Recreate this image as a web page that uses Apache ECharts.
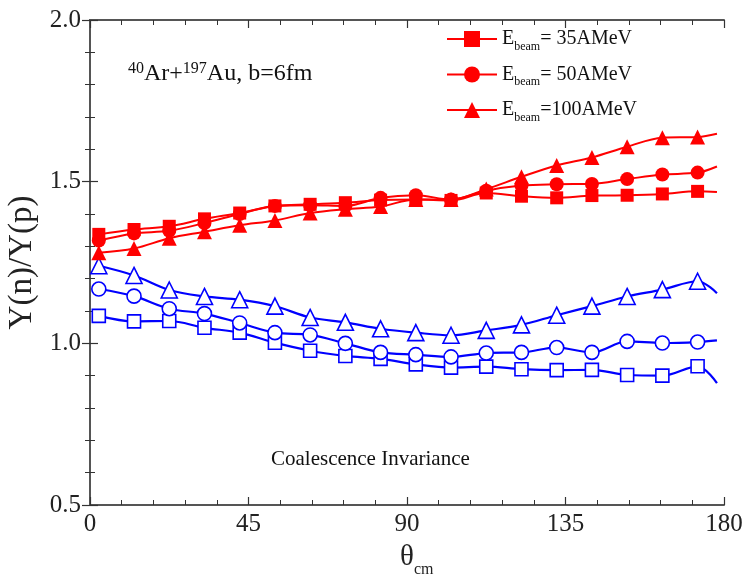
<!DOCTYPE html>
<html>
<head>
<meta charset="utf-8">
<script src="https://cdn.jsdelivr.net/npm/echarts@6/dist/echarts.min.js"></script>
<style>html,body{margin:0;padding:0;background:#fff;}#c{width:746px;height:586px;}</style>
</head>
<body>
<div id="c"></div>
<script>
// angles (deg); last point is the curve end without marker
var theta = [2.5,12.5,22.5,32.5,42.5,52.5,62.5,72.5,82.5,92.5,102.5,112.5,122.5,132.5,142.5,152.5,162.5,172.5,178];
// red (filled) series
var red35  = [1.337,1.352,1.362,1.385,1.403,1.425,1.430,1.435,1.443,1.445,1.442,1.465,1.455,1.450,1.457,1.458,1.462,1.470,1.468];
var red50  = [1.318,1.340,1.348,1.372,1.400,1.425,1.427,1.425,1.450,1.458,1.445,1.472,1.488,1.492,1.493,1.508,1.522,1.528,1.547];
var red100 = [1.280,1.293,1.325,1.345,1.365,1.380,1.403,1.415,1.423,1.445,1.445,1.477,1.515,1.550,1.575,1.608,1.636,1.638,1.648];
// blue (open) series
var blue35  = [1.085,1.068,1.069,1.048,1.033,1.002,0.977,0.961,0.952,0.935,0.925,0.928,0.920,0.917,0.918,0.902,0.900,0.929,0.877];
var blue50  = [1.168,1.146,1.107,1.092,1.063,1.033,1.026,1.000,0.972,0.965,0.958,0.970,0.972,0.987,0.972,1.006,1.001,1.004,1.009];
var blue100 = [1.240,1.210,1.165,1.145,1.135,1.115,1.080,1.065,1.045,1.033,1.025,1.040,1.057,1.087,1.115,1.145,1.166,1.192,1.155];
var legendNames = ['E{s|beam}= 35AMeV','E{s|beam}= 50AMeV','E{s|beam}=100AMeV'];
var xTicks = [0,45,90,135,180];
var yTicks = [0.5,1.0,1.5,2.0];

var FONT = 'Liberation Serif';
var RED = '#ff0000', BLUE = '#0000ff';

function pairs(arr){ return theta.map(function(t,i){ return [t, arr[i]]; }); }

function mkSeries(name, arr, color, symbol, size, filled){
  var data = pairs(arr);
  var last = data.length - 1;
  data = data.map(function(p,i){
    if(i===last) return {value:p, symbol:'none'};
    return p;
  });
  return {
    type:'line', name: name, data: data, smooth: 0.35,
    symbol: symbol, symbolSize: size, showAllSymbol: true,
    lineStyle:{color: color, width: filled?2:2.2},
    itemStyle:{color: filled ? color : '#ffffff', borderColor: color, borderWidth: filled?0:1.6},
    emphasis:{disabled:true}, z: filled?3:2,
    animation:false
  };
}

var axisCommon = {
  axisLine:{show:true, lineStyle:{color:'#555', width:2}},
  axisTick:{show:true, inside:true, length:8, lineStyle:{color:'#333', width:1.2}},
  minorTick:{show:true, splitNumber:5, length:5, lineStyle:{color:'#333', width:1}},
  splitLine:{show:false}
};

var chart = echarts.init(document.getElementById('c'));
chart.setOption({
  animation:false,
  backgroundColor:'#fff',
  grid:{left:90, right:22, top:20, bottom:81, containLabel:false, outerBoundsMode:'none'},
  legend:{
    orient:'vertical', left:441, top:24, itemGap:12, itemWidth:50, itemHeight:20,
    data: legendNames,
    formatter: function(n){ return n; },
    textStyle:{fontFamily:FONT, fontSize:20, color:'#111', rich:{s:{fontFamily:FONT, fontSize:12, color:'#111', verticalAlign:'bottom', padding:[15,0,0,0]}}}
  },
  xAxis:[
    Object.assign({type:'value', min:0, max:180, interval:45, position:'bottom',
      axisLabel:{show:true, fontFamily:FONT, fontSize:25, color:'#222', margin:7}
    }, axisCommon),
    Object.assign({type:'value', min:0, max:180, interval:45, position:'top', axisLabel:{show:false}}, axisCommon)
  ],
  yAxis:[
    Object.assign({type:'value', min:0.5, max:2.0, interval:0.5, position:'left',
      axisLabel:{show:true, fontFamily:FONT, fontSize:25, color:'#222', margin:9, formatter:function(v){return v.toFixed(1);}},
      name:'Y(n)/Y(p)', nameLocation:'middle', nameGap:48, nameRotate:90,
      nameTextStyle:{fontFamily:FONT, fontSize:33, color:'#222'}
    }, axisCommon),
    Object.assign({type:'value', min:0.5, max:2.0, interval:0.5, position:'right', axisLabel:{show:false}}, axisCommon)
  ],
  graphic:[
    {type:'text', left:128, top:61, style:{
      text:'{p|40}Ar+{p|197}Au, b=6fm',
      font:'24px "Liberation Serif"', fill:'#111',
      rich:{p:{fontFamily:FONT, fontSize:16, fill:'#111', color:'#111', verticalAlign:'top', padding:[0,0,10,0]}}
    }},
    {type:'text', left:271, top:449, style:{text:'Coalescence Invariance', font:'21px "Liberation Serif"', fill:'#111'}},
    {type:'text', left:400, top:543, style:{
      text:'θ{s|cm}', font:'29px "Liberation Serif"', fill:'#222',
      rich:{s:{fontFamily:FONT, fontSize:16, fill:'#222', color:'#222', verticalAlign:'bottom', padding:[24,0,0,0]}}
    }}
  ],
  series:[
    mkSeries(legendNames[0], red35, RED, 'rect', 13, true),
    mkSeries(legendNames[1], red50, RED, 'circle', 14, true),
    mkSeries(legendNames[2], red100, RED, 'triangle', 15, true),
    mkSeries('b35', blue35, BLUE, 'rect', 13, false),
    mkSeries('b50', blue50, BLUE, 'circle', 14, false),
    mkSeries('b100', blue100, BLUE, 'triangle', 16, false)
  ]
});
</script>
</body>
</html>
